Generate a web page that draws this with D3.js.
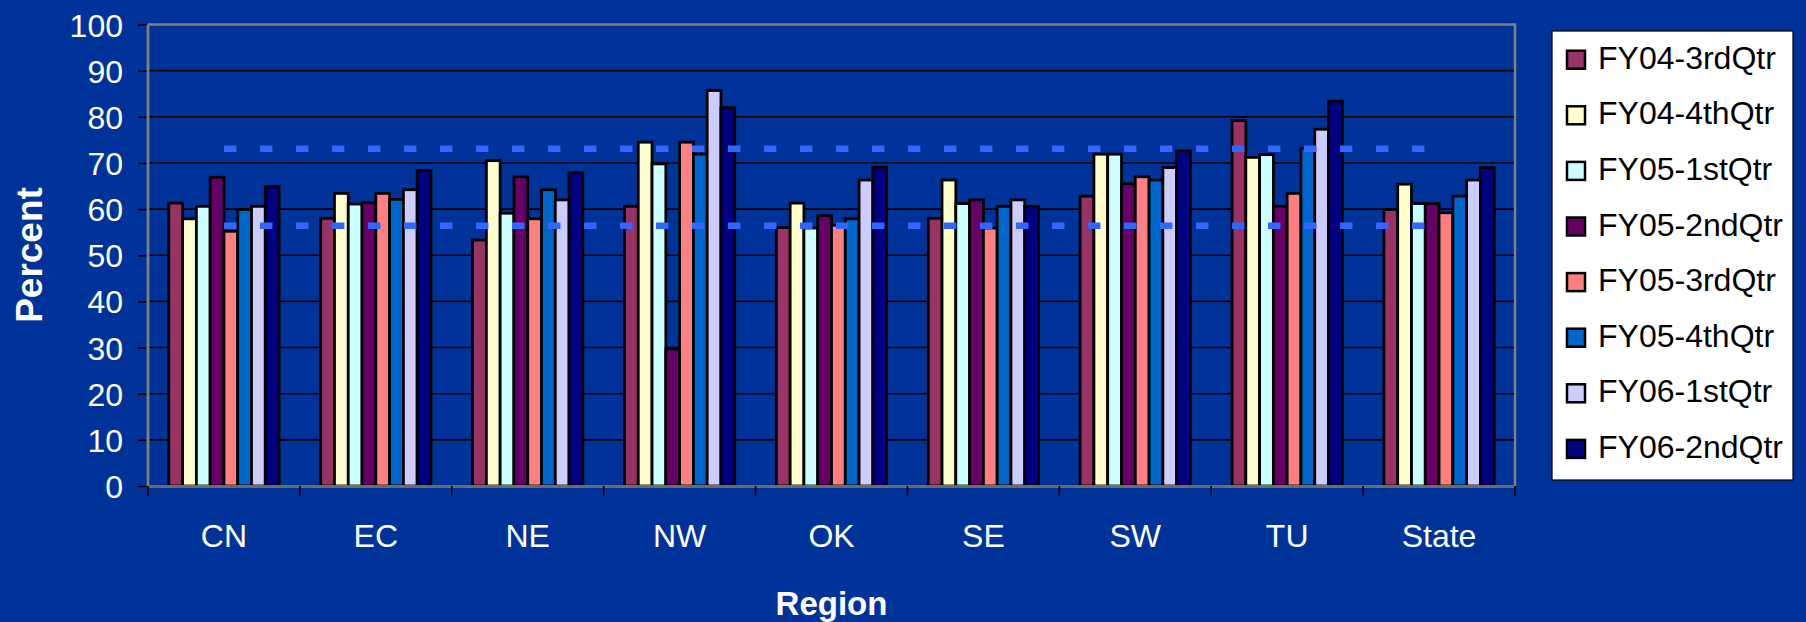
<!DOCTYPE html>
<html>
<head>
<meta charset="utf-8">
<script src="https://cdn.jsdelivr.net/npm/d3@7"></script>
<style>
  html, body { margin: 0; padding: 0; background: #003399; }
  svg { display: block; }
  text { font-family: "Liberation Sans", Arial, sans-serif; }
</style>
</head>
<body>
<svg id="chart" width="1806" height="622"></svg>
<script>
// ---- data ----
const regions = ["CN", "EC", "NE", "NW", "OK", "SE", "SW", "TU", "State"];
const seriesNames = ["FY04-3rdQtr", "FY04-4thQtr", "FY05-1stQtr", "FY05-2ndQtr",
                     "FY05-3rdQtr", "FY05-4thQtr", "FY06-1stQtr", "FY06-2ndQtr"];
const fy04q3 = [61.3, 58.0, 53.3, 60.6, 56.0, 58.0, 62.8, 79.2, 59.9];
const fy04q4 = [57.9, 63.4, 70.5, 74.5, 61.3, 66.3, 71.9, 71.2, 65.4];
const fy05q1 = [60.6, 61.1, 59.1, 69.8, 55.9, 61.2, 71.9, 71.8, 61.2];
const fy05q2 = [66.9, 61.4, 67.0, 29.7, 58.6, 62.0, 65.5, 60.6, 61.2];
const fy05q3 = [55.2, 63.4, 57.9, 74.5, 56.5, 55.9, 67.0, 63.4, 59.2];
const fy05q4 = [59.9, 62.1, 64.2, 71.9, 57.9, 60.6, 66.3, 73.2, 62.8];
const fy06q1 = [60.6, 64.2, 62.0, 85.7, 66.3, 62.0, 69.0, 77.3, 66.3];
const fy06q2 = [64.9, 68.4, 67.9, 82.0, 69.1, 60.6, 72.6, 83.4, 69.0];
const upperRef = [73.1, 73.1, 73.1, 73.1, 73.1, 73.1, 73.1, 73.1, 73.1];
const lowerRef = [56.4, 56.4, 56.4, 56.4, 56.4, 56.4, 56.4, 56.4, 56.4];
const yTicks = [0, 10, 20, 30, 40, 50, 60, 70, 80, 90, 100];
const colors = ["#993366", "#FFFFCC", "#CCFFFF", "#660066",
                "#FF8080", "#0066CC", "#CCCCFF", "#000080"];

const seriesValues = [fy04q3, fy04q4, fy05q1, fy05q2, fy05q3, fy05q4, fy06q1, fy06q2];

// ---- layout ----
const svg = d3.select("#chart");
const plot = { left: 148, right: 1515, top: 24.5, bottom: 486 };

const x0 = d3.scaleBand().domain(regions).range([plot.left, plot.right]).padding(0);
const bw = x0.bandwidth();
const gpad = bw * 0.137;
const x1 = d3.scaleBand().domain(seriesNames).range([gpad, bw - gpad]).padding(0);
const y = d3.scaleLinear().domain([0, 100]).range([plot.bottom, plot.top]);

// background
svg.append("rect").attr("width", 1806).attr("height", 622).attr("fill", "#003399");

// gridlines
svg.append("g").selectAll("line").data(yTicks.filter(d => d > 0 && d < 100)).join("line")
  .attr("x1", plot.left).attr("x2", plot.right)
  .attr("y1", d => y(d)).attr("y2", d => y(d))
  .attr("stroke", "#000").attr("stroke-width", 1.6);

// plot border (top & right) gray
svg.append("path")
  .attr("d", `M${plot.left},${y(100)}H${plot.right}V${plot.bottom}`)
  .attr("fill", "none").attr("stroke", "#808080").attr("stroke-width", 2.5);

// y axis
const yAxis = d3.axisLeft(y).tickValues(yTicks).tickSize(10).tickPadding(15);
const gy = svg.append("g").attr("transform", `translate(${plot.left},0)`).call(yAxis);
gy.select(".domain").remove();
gy.selectAll(".tick line").attr("stroke", "#000").attr("stroke-width", 1.6);
gy.selectAll(".tick text").attr("fill", "#fff").attr("font-size", 32)
  .attr("font-family", "'Liberation Sans', Arial, sans-serif")
  .attr("dy", "0.36em");

// bars
const groups = svg.append("g").selectAll("g").data(regions).join("g")
  .attr("transform", d => `translate(${x0(d)},0)`);
groups.selectAll("rect")
  .data((r, ri) => seriesNames.map((s, si) => ({ s, si, v: seriesValues[si][ri] })))
  .join("rect")
  .attr("x", d => x1(d.s))
  .attr("width", x1.bandwidth())
  .attr("y", d => y(d.v))
  .attr("height", d => y(0) - y(d.v))
  .attr("fill", d => colors[d.si])
  .attr("stroke", "#000").attr("stroke-width", 2.8);

// axis lines (gray) on left and bottom
svg.append("line").attr("x1", plot.left).attr("x2", plot.left)
  .attr("y1", y(100)).attr("y2", plot.bottom + 1)
  .attr("stroke", "#808080").attr("stroke-width", 2.8);
svg.append("line").attr("x1", plot.left).attr("x2", plot.right)
  .attr("y1", plot.bottom + 0.5).attr("y2", plot.bottom + 0.5)
  .attr("stroke", "#6b6b6b").attr("stroke-width", 2.8);

// category boundary ticks
const bounds = regions.map(r => x0(r)).concat([plot.right]);
svg.append("g").selectAll("line").data(bounds).join("line")
  .attr("x1", d => d).attr("x2", d => d)
  .attr("y1", plot.bottom).attr("y2", plot.bottom + 10)
  .attr("stroke", "#000").attr("stroke-width", 1.6);

// category labels via axis
const xAxis = d3.axisBottom(x0).tickSize(0).tickPadding(0);
const gx = svg.append("g").attr("transform", `translate(0,${plot.bottom})`).call(xAxis);
gx.select(".domain").remove();
gx.selectAll(".tick text").attr("fill", "#fff").attr("font-size", 32)
  .attr("font-family", "'Liberation Sans', Arial, sans-serif")
  .attr("y", 61).attr("dy", 0);

// dashed reference lines
const refLine = d3.line().x((d, i) => x0(regions[i]) + bw / 2).y(d => y(d));
[upperRef, lowerRef].forEach(arr => {
  svg.append("path").attr("d", refLine(arr))
    .attr("fill", "none").attr("stroke", "#3366FF").attr("stroke-width", 6.5)
    .attr("stroke-dasharray", "12.5 23.5");
});

// axis titles
svg.append("text").attr("transform", "translate(42,255) rotate(-90)")
  .attr("text-anchor", "middle").attr("fill", "#fff")
  .attr("font-size", 37).attr("font-weight", "bold").text("Percent");
svg.append("text").attr("x", (plot.left + plot.right) / 2).attr("y", 615)
  .attr("text-anchor", "middle").attr("fill", "#fff")
  .attr("font-size", 33).attr("font-weight", "bold").text("Region");

// legend
const lg = svg.append("g");
lg.append("rect").attr("x", 1552).attr("y", 31).attr("width", 241).attr("height", 449)
  .attr("fill", "#fff").attr("stroke", "#000").attr("stroke-width", 1.2);
const items = lg.selectAll("g.item").data(seriesNames).join("g")
  .attr("class", "item")
  .attr("transform", (d, i) => `translate(0,${59.7 + i * 55.6})`);
items.append("rect").attr("x", 1567).attr("y", -9).attr("width", 18).attr("height", 18)
  .attr("fill", (d, i) => colors[i]).attr("stroke", "#000").attr("stroke-width", 2.5);
items.append("text").attr("x", 1598).attr("y", 9).attr("fill", "#000")
  .attr("font-size", 32).text(d => d);
</script>
</body>
</html>
